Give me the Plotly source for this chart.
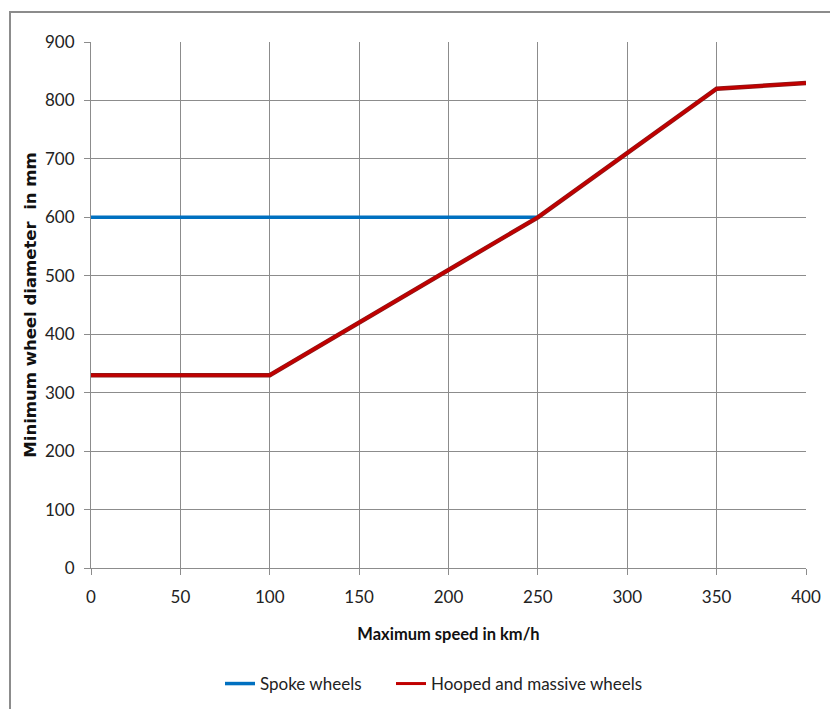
import plotly.graph_objects as go

speed_spoke = [0, 250]
diam_spoke = [600, 600]
speed_hoop = [0, 100, 250, 350, 400]
diam_hoop = [330, 330, 600, 820, 830]
x_ticks = [0, 50, 100, 150, 200, 250, 300, 350, 400]
y_ticks = [0, 100, 200, 300, 400, 500, 600, 700, 800, 900]

W, H = 838, 709
OFF = 8  # page body margin
L, R, T, B = 91 - OFF, 32 + OFF, 42 - OFF, 141 + OFF
PW, PH = W - L - R, H - T - B

fig = go.Figure()
fig.add_trace(go.Scatter(x=speed_spoke, y=diam_spoke, mode="lines", name="Spoke wheels",
                         line=dict(color="#0070C0", width=3.5), legend="legend"))
fig.add_trace(go.Scatter(x=speed_hoop, y=diam_hoop, mode="lines", showlegend=False, hoverinfo="skip",
                         line=dict(color="#8a1a1a", width=4.5)))
fig.add_trace(go.Scatter(x=speed_hoop, y=diam_hoop, mode="lines", name="Hooped and massive wheels",
                         line=dict(color="#C00000", width=3), legend="legend2"))

font = "Lato, 'Open Sans', sans-serif"
leg_common = dict(orientation="h", xanchor="left", y=-(684 - 568) / PH, yanchor="middle",
                  font=dict(size=17, color="#222"), bgcolor="rgba(0,0,0,0)")
fig.update_layout(
    width=W, height=H,
    margin=dict(l=L, r=R, t=T, b=B),
    paper_bgcolor="white", plot_bgcolor="white",
    font=dict(family=font, size=16, color="#222"),
    showlegend=True,
    legend=dict(x=(220 - 91) / PW, **leg_common),
    legend2=dict(x=(391 - 91) / PW, **leg_common),
    xaxis=dict(range=[0, 400], tickvals=x_ticks, showgrid=True, gridcolor="#8c8c8c", gridwidth=1,
               showline=True, linecolor="#8c8c8c", ticks="outside", ticklen=6, tickcolor="#8c8c8c",
               zeroline=False, tickfont=dict(size=17), ticklabelstandoff=8,
               title=dict(text="<b>Maximum speed in km/h</b>", font=dict(size=16.5, color="#111"), standoff=22)),
    yaxis=dict(range=[0, 900], tickvals=y_ticks, showgrid=True, gridcolor="#8c8c8c", gridwidth=1,
               showline=True, linecolor="#8c8c8c", ticks="outside", ticklen=6, tickcolor="#8c8c8c",
               zeroline=False, tickfont=dict(size=17), ticklabelstandoff=6,
               title=dict(text="<b>Minimum wheel diameter  in mm</b>",
                          font=dict(family="'DejaVu Sans', sans-serif", size=16.5, color="#111"),
                          standoff=4)),
    shapes=[dict(type="rect", xref="paper", yref="paper",
                 x0=(10 - 91) / PW, x1=(845 - 91) / PW,
                 y0=-(720 - 568) / PH, y1=1 + (42 - 12) / PH,
                 line=dict(color="#8c8c8c", width=2), layer="below")],
)
fig.write_html("out.html")
